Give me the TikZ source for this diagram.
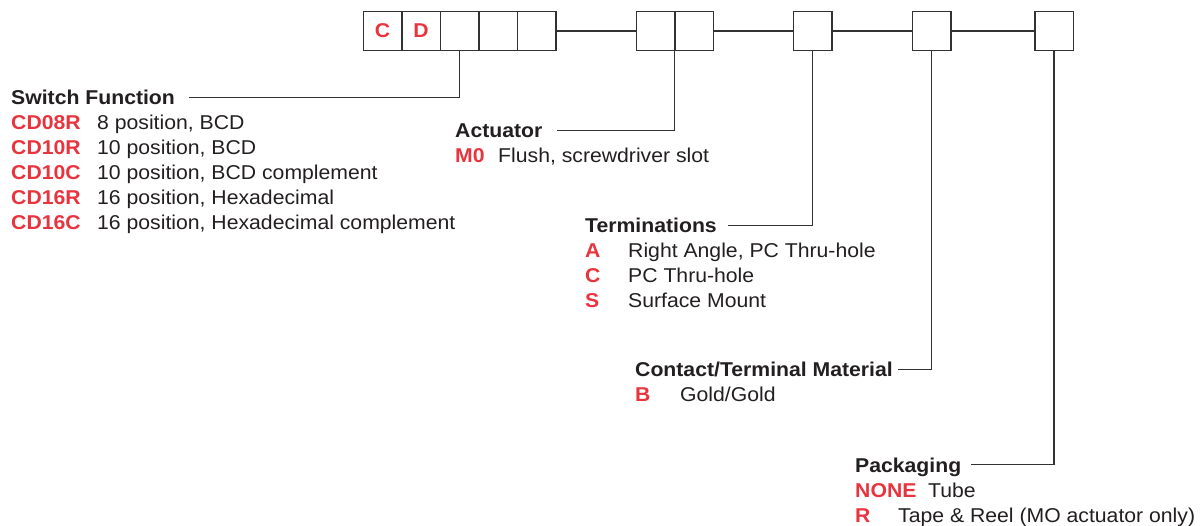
\documentclass[tikz,border=0pt]{standalone}
\usepackage{fontspec}
\setmainfont{Liberation Sans}[FakeStretch=1.06]
\usetikzlibrary{positioning}
\definecolor{codered}{RGB}{232,52,62}
\definecolor{inkgray}{RGB}{35,31,32}
\definecolor{linegray}{RGB}{50,50,50}

\tikzset{
  cell/.style={draw=linegray,line width=1.5pt,minimum width=38.5,minimum height=39,inner sep=0,outer sep=0,
    font=\fontsize{20}{23}\selectfont\bfseries,text=codered},
  title/.style={anchor=base west,inner sep=0,text height=15,text depth=0,font=\fontsize{20}{23}\selectfont\bfseries,text=inkgray},
  code/.style={anchor=base west,inner sep=0,font=\fontsize{20}{23}\selectfont\bfseries,text=codered},
  desc/.style={anchor=base west,inner sep=0,font=\fontsize{20}{23}\selectfont,text=inkgray},
  lead/.style={draw=linegray,line width=1.4pt}
}

\begin{document}
\begin{tikzpicture}[x=1pt,y=-1pt]
    \useasboundingbox (0,0) rectangle (1200,526);
    % part number boxes
    \node[cell] (b1) at (382.5,31) {C};
    \node[cell] (b2) [right=0pt of b1] {D};
    \node[cell] (b3) [right=0pt of b2] {};
    \node[cell] (b4) [right=0pt of b3] {};
    \node[cell] (b5) [right=0pt of b4] {};
    \node[cell] (a1) at (655.5,31) {};
    \node[cell] (a2) [right=0pt of a1] {};
    \node[cell] (t1) at (812.5,31) {};
    \node[cell] (m1) at (931.5,31) {};
    \node[cell] (p1) at (1054,31) {};
    \draw[lead] (b5.east) -- (a1.west);
    \draw[lead] (a2.east) -- (t1.west);
    \draw[lead] (t1.east) -- (m1.west);
    \draw[lead] (m1.east) -- (p1.west);

    % switch function
    \node[title] (sw) at (11,105) {Switch Function};
    \foreach \c/\d [count=\i] in {CD08R/{8 position, BCD},CD10R/{10 position, BCD},CD10C/{10 position, BCD complement},CD16R/{16 position, Hexadecimal},CD16C/{16 position, Hexadecimal complement}}{
      \node[code] (sw\i) at (11,{105+25*\i}) {\c};
      \node[desc] (swd\i) at (97,{105+25*\i}) {\d};
    }
    \draw[lead] (b3.south) |- ([xshift=14pt]sw.east);

    % actuator
    \node[title] (act) at (455,138) {Actuator};
    \node[code] (act1) at (455,163) {M0};
    \node[desc] (actd1) at (498,163) {Flush, screwdriver slot};
    \draw[lead] (a1.south east) |- ([xshift=14pt]act.east);

    % terminations
    \node[title] (term) at (585,233) {Terminations};
    \foreach \c/\d [count=\i] in {A/{Right Angle, PC Thru-hole},C/{PC Thru-hole},S/{Surface Mount}}{
      \node[code] (term\i) at (585,{233+25*\i}) {\c};
      \node[desc] (termd\i) at (628,{233+25*\i}) {\d};
    }
    \draw[lead] (t1.south) |- ([xshift=11pt]term.east);

    % contact material
    \node[title] (cont) at (635,377) {Contact/Terminal Material};
    \node[code] (cont1) at (635,402) {B};
    \node[desc] (contd1) at (680,402) {Gold/Gold};
    \draw[lead] (m1.south) |- ([xshift=5pt]cont.east);

    % packaging
    \node[title] (pack) at (855,472) {Packaging};
    \node[code] (pack1) at (855,497) {NONE};
    \node[desc] (packd1) at (928,497) {Tube};
    \node[code] (pack2) at (855,522) {R};
    \node[desc] (packd2) at (898,522) {Tape \& Reel (MO actuator only)};
    \draw[lead] (p1.south) |- ([xshift=10pt]pack.east);
\end{tikzpicture}
\end{document}
